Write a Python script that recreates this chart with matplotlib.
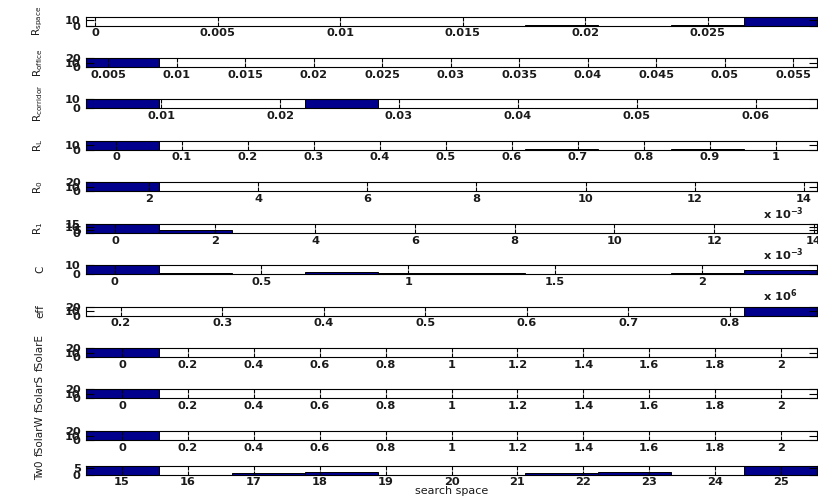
import numpy as np
import matplotlib
matplotlib.use('Agg')
import matplotlib.pyplot as plt

plt.rcParams['font.family'] = ['DejaVu Sans']
plt.rcParams['mathtext.default'] = 'regular'
plt.rcParams['font.weight'] = 'bold'

# ---------------- data ----------------
ylabels = [r'R$_{space}$', r'R$_{office}$', r'R$_{corridor}$', r'R$_{L}$',
           r'R$_{0}$', r'R$_{1}$', 'C', 'eff', 'fSolarE', 'fSolarS', 'fSolarW', 'Tw0']

# histogram ranges (lower / upper bin edge of each search space)
range_lo = [-0.00037, 0.00339, 0.00368, -0.0455, 0.000844, -0.00059,
            -0.0973e6, 0.1655, -0.1094, -0.1094, -0.1094, 14.453]
range_hi = [0.02945, 0.05675, 0.06514, 1.0622, 0.01424, 0.01406,
            2.392e6, 0.886, 2.109, 2.109, 2.109, 25.547]

# counts in the 10 bins of each histogram
counts_r_space    = [0, 0, 0, 0, 0, 0, 2, 0, 1, 17]
counts_r_office   = [20, 0, 0, 0, 0, 0, 0, 0, 0, 0]
counts_r_corridor = [10, 0, 0, 10, 0, 0, 0, 0, 0, 0]
counts_r_l        = [18, 0, 0, 0, 0, 0, 1, 0, 1, 0]
counts_r_0        = [20, 0, 0, 0, 0, 0, 0, 0, 0, 0]
counts_r_1        = [15, 5, 0, 0, 0, 0, 0, 0, 0, 0]
counts_c          = [10, 1, 0, 2, 1, 1, 0, 0, 1, 4]
counts_eff        = [0, 0, 0, 0, 0, 0, 0, 0, 0, 20]
counts_fsolar_e   = [20, 0, 0, 0, 0, 0, 0, 0, 0, 0]
counts_fsolar_s   = [20, 0, 0, 0, 0, 0, 0, 0, 0, 0]
counts_fsolar_w   = [20, 0, 0, 0, 0, 0, 0, 0, 0, 0]
counts_tw0        = [7, 0, 1, 2, 0, 0, 1, 2, 0, 7]
all_counts = [counts_r_space, counts_r_office, counts_r_corridor, counts_r_l,
              counts_r_0, counts_r_1, counts_c, counts_eff,
              counts_fsolar_e, counts_fsolar_s, counts_fsolar_w, counts_tw0]

# x ticks and labels
xt_r_space = [0, 0.005, 0.01, 0.015, 0.02, 0.025]
xl_r_space = ['0', '0.005', '0.01', '0.015', '0.02', '0.025']
xt_r_office = [0.005, 0.01, 0.015, 0.02, 0.025, 0.03, 0.035, 0.04, 0.045, 0.05, 0.055]
xl_r_office = ['0.005', '0.01', '0.015', '0.02', '0.025', '0.03', '0.035', '0.04',
               '0.045', '0.05', '0.055']
xt_r_corridor = [0.01, 0.02, 0.03, 0.04, 0.05, 0.06]
xl_r_corridor = ['0.01', '0.02', '0.03', '0.04', '0.05', '0.06']
xt_r_l = [0, 0.1, 0.2, 0.3, 0.4, 0.5, 0.6, 0.7, 0.8, 0.9, 1.0]
xl_r_l = ['0', '0.1', '0.2', '0.3', '0.4', '0.5', '0.6', '0.7', '0.8', '0.9', '1']
xt_r_0 = [0.002, 0.004, 0.006, 0.008, 0.010, 0.012, 0.014]
xl_r_0 = ['2', '4', '6', '8', '10', '12', '14']
xt_r_1 = [0, 0.002, 0.004, 0.006, 0.008, 0.010, 0.012, 0.014]
xl_r_1 = ['0', '2', '4', '6', '8', '10', '12', '14']
xt_c = [0, 0.5e6, 1.0e6, 1.5e6, 2.0e6]
xl_c = ['0', '0.5', '1', '1.5', '2']
xt_eff = [0.2, 0.3, 0.4, 0.5, 0.6, 0.7, 0.8]
xl_eff = ['0.2', '0.3', '0.4', '0.5', '0.6', '0.7', '0.8']
xt_fsolar = [0, 0.2, 0.4, 0.6, 0.8, 1.0, 1.2, 1.4, 1.6, 1.8, 2.0]
xl_fsolar = ['0', '0.2', '0.4', '0.6', '0.8', '1', '1.2', '1.4', '1.6', '1.8', '2']
xt_tw0 = [15, 16, 17, 18, 19, 20, 21, 22, 23, 24, 25]
xl_tw0 = ['15', '16', '17', '18', '19', '20', '21', '22', '23', '24', '25']
all_xt = [xt_r_space, xt_r_office, xt_r_corridor, xt_r_l, xt_r_0, xt_r_1,
          xt_c, xt_eff, xt_fsolar, xt_fsolar, xt_fsolar, xt_tw0]
all_xl = [xl_r_space, xl_r_office, xl_r_corridor, xl_r_l, xl_r_0, xl_r_1,
          xl_c, xl_eff, xl_fsolar, xl_fsolar, xl_fsolar, xl_tw0]
multipliers = [None, None, None, None, r'x 10$^{-3}$', r'x 10$^{-3}$',
               r'x 10$^{6}$', None, None, None, None, None]

# y ticks
all_yt = [[0, 10], [0, 10, 20], [0, 10], [0, 10], [0, 10, 20], [0, 5, 10, 15],
          [0, 10], [0, 10, 20], [0, 10, 20], [0, 10, 20], [0, 10, 20], [0, 5]]

xlabel_text = 'search space'

# ---------------- layout / style ----------------
W, H = 818, 498
LEFT, RIGHT = 86, 817
TOPS = [16.7, 58.3, 99, 140.7, 182.3, 224, 265, 306.7, 348.3, 389.3, 431, 465.5]
AX_H = 9
NAVY = '#00008C'
FS = 8.2
TXT = '#1a1a1a'

fig = plt.figure(figsize=(W / 100, H / 100), dpi=100)

for i in range(12):
    ax = fig.add_axes([LEFT / W, 1 - (TOPS[i] + AX_H) / H, (RIGHT - LEFT) / W, AX_H / H])
    counts = np.array(all_counts[i], dtype=float)
    edges = np.linspace(range_lo[i], range_hi[i], len(counts) + 1)
    ax.bar(edges[:-1], counts, width=np.diff(edges), align='edge',
           color=NAVY, edgecolor='black', linewidth=0.7)
    ax.set_xlim(range_lo[i], range_hi[i])
    ax.set_ylim(0, counts.max())
    ax.set_xticks(all_xt[i])
    ax.set_xticklabels(all_xl[i])
    ax.set_yticks(all_yt[i])
    ax.set_yticklabels([str(v) for v in all_yt[i]])
    ax.tick_params(axis='x', direction='in', length=3, width=0.8, top=True, bottom=True,
                   pad=2, labelsize=FS, labelcolor=TXT)
    ax.tick_params(axis='y', direction='in', length=6, width=0.8, left=True, right=True,
                   pad=4, labelsize=FS, labelcolor=TXT)
    for s in ax.spines.values():
        s.set_linewidth(0.8)
    ax.set_ylabel(ylabels[i], fontsize=7.5, color=TXT)
    ax.yaxis.set_label_coords(-0.056, 0.5)
    if multipliers[i]:
        fig.text(763 / W, 1 - (TOPS[i] + AX_H + 22) / H, multipliers[i],
                 ha='left', va='center', fontsize=FS, color=TXT)
    if i == 11:
        ax.set_xlabel(xlabel_text, fontsize=8, labelpad=-1, color=TXT)

fig.savefig('out.png', dpi=100)
